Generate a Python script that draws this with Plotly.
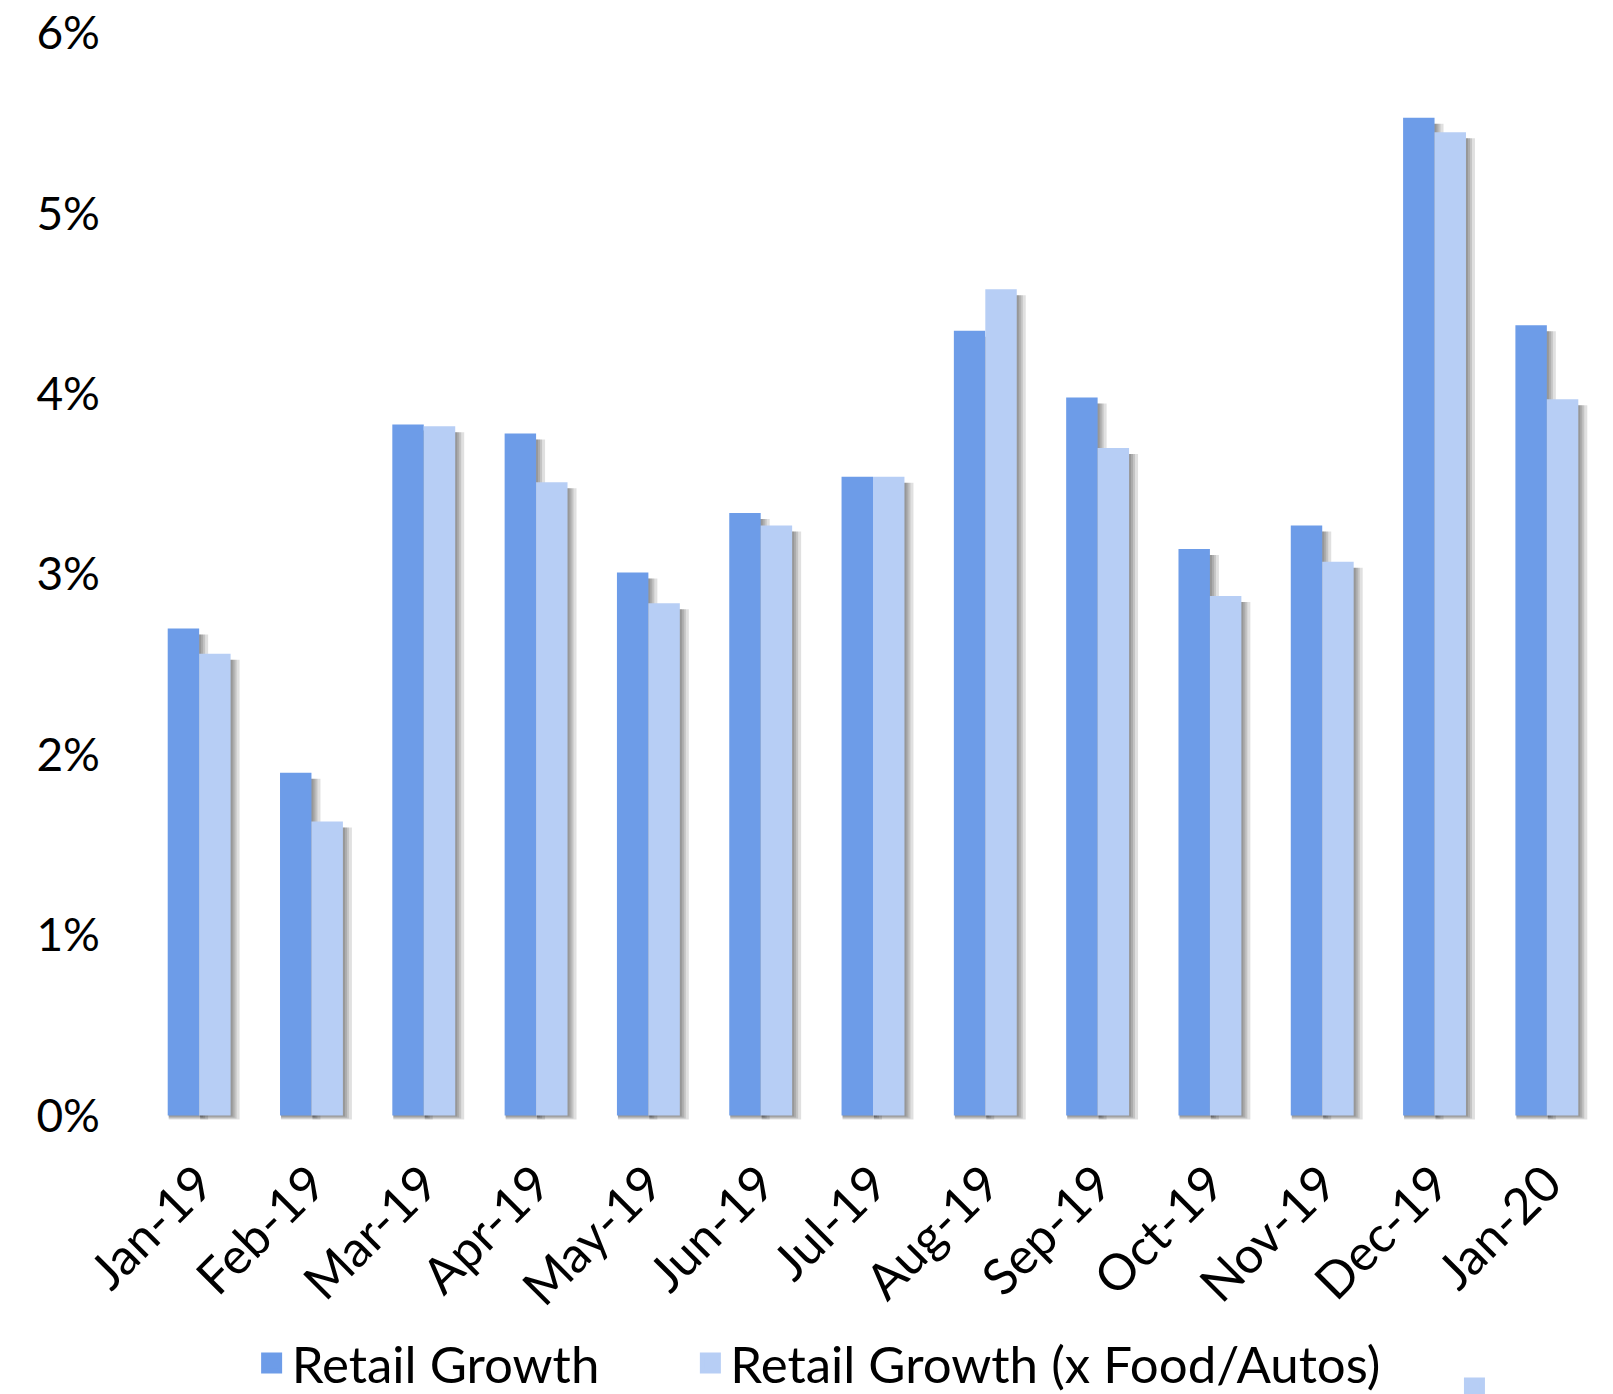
import plotly.graph_objects as go

# Monthly retail sales growth (year over year, %)
months = ["Jan-19", "Feb-19", "Mar-19", "Apr-19", "May-19", "Jun-19", "Jul-19",
          "Aug-19", "Sep-19", "Oct-19", "Nov-19", "Dec-19", "Jan-20"]
retail_growth = [2.70, 1.90, 3.83, 3.78, 3.01, 3.34, 3.54, 4.35, 3.98, 3.14, 3.27, 5.53, 4.38]
retail_ex_food_autos = [2.56, 1.63, 3.82, 3.51, 2.84, 3.27, 3.54, 4.58, 3.70, 2.88, 3.07, 5.45, 3.97]
y_ticks = [0, 1, 2, 3, 4, 5, 6]
y_tick_labels = ["0%", "1%", "2%", "3%", "4%", "5%", "6%"]

DARK = "#6D9CE8"
LIGHT = "#B7CEF5"
FONT = "Lato"

W, H = 1613, 1394
M_L, M_R, M_T, M_B = 143, 10, 33, 273
Y_RANGE = [-0.03, 6.0]
BARGAP = 0.44

fig = go.Figure()
fig.add_trace(go.Bar(x=months, y=retail_growth, name="Retail Growth",
                     marker=dict(color=DARK, line=dict(width=0)), showlegend=False))
fig.add_trace(go.Bar(x=months, y=retail_ex_food_autos, name="Retail Growth (x Food/Autos)",
                     marker=dict(color=LIGHT, line=dict(width=0)), showlegend=False))

# soft drop shadow behind every bar, built from the bar values
px_x = len(months) / (W - M_L - M_R)               # category units per pixel
px_y = (Y_RANGE[1] - Y_RANGE[0]) / (H - M_T - M_B)  # value units per pixel
bar_w = (1 - BARGAP) / 2
shapes = []
for series_idx, series in enumerate([retail_growth, retail_ex_food_autos]):
    for i, v in enumerate(series):
        x0 = i - bar_w + series_idx * bar_w
        x1 = x0 + bar_w
        for spread, drop in [(2, 1), (4, 2), (6, 3), (9, 4)]:
            shapes.append(dict(
                type="rect", xref="x", yref="y", layer="below",
                x0=x0 + 1 * px_x, x1=x1 + spread * px_x,
                y0=-drop * px_y, y1=v - 6 * px_y,
                fillcolor="rgba(0,0,0,0.12)", line=dict(width=0)))

# legend swatches, one legend box per entry
legend_entries = [("Retail Growth", DARK, "legend"),
                  ("Retail Growth (x Food/Autos)", LIGHT, "legend2"),
                  (" ", LIGHT, "legend3")]
for name, color, legend_id in legend_entries:
    fig.add_trace(go.Scatter(x=[None], y=[None], mode="markers", name=name,
                             marker=dict(symbol="square", size=16, color=color,
                                         line=dict(color=color, width=5)),
                             legend=legend_id))

legend_style = dict(orientation="h", xref="container", yref="container",
                    xanchor="left", yanchor="middle", bgcolor="rgba(0,0,0,0)",
                    font=dict(family=FONT, size=51, color="#000000"))

fig.update_layout(
    width=W, height=H,
    margin=dict(l=M_L, r=M_R, t=M_T, b=M_B, pad=0, autoexpand=False),
    paper_bgcolor="white", plot_bgcolor="white",
    barmode="group", bargap=BARGAP, bargroupgap=0,
    font=dict(family=FONT, size=46, color="#000000"),
    shapes=shapes,
    hovermode=False,
    legend=dict(legend_style, x=0.156, y=0.022),
    legend2=dict(legend_style, x=0.428, y=0.022),
    legend3=dict(legend_style, x=0.9017, y=0.004),
)
fig.update_xaxes(type="category", tickangle=-45, showgrid=False, showline=False,
                 zeroline=False, ticks="", ticklabelstandoff=22,
                 tickfont=dict(family=FONT, size=50, color="#000000"))
fig.update_yaxes(range=Y_RANGE, tickvals=y_ticks, ticktext=y_tick_labels,
                 showgrid=False, showline=False, zeroline=False, ticks="",
                 ticklabelstandoff=42, tickfont=dict(family=FONT, size=46, color="#000000"))

fig.write_html("out.html")
